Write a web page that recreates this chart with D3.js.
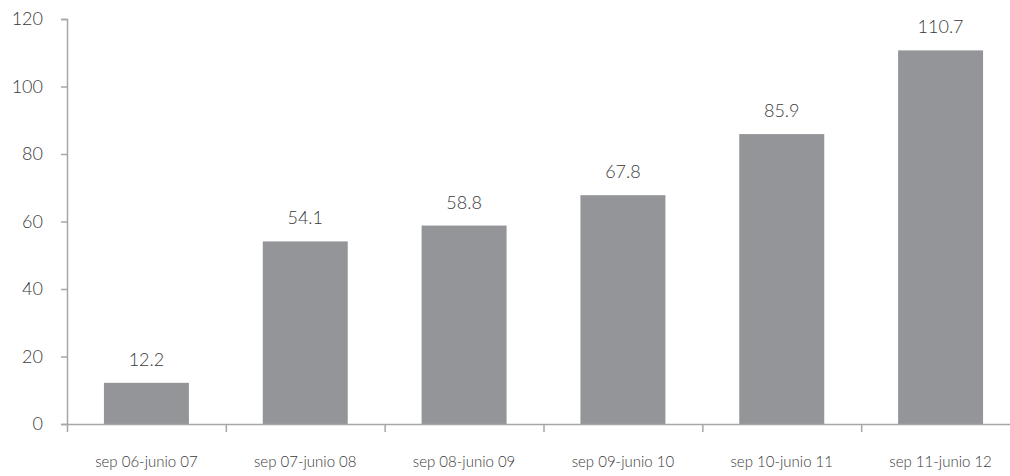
<!DOCTYPE html>
<html><head><meta charset="utf-8">
<script src="https://cdn.jsdelivr.net/npm/d3@7"></script>
<style>body{margin:0;background:#fff}svg{display:block;font-family:Lato,"Open Sans",sans-serif;font-weight:300}</style>
</head><body><svg id="c" width="1010" height="476"></svg>
<script>
const categories = ["sep 06-junio 07","sep 07-junio 08","sep 08-junio 09","sep 09-junio 10","sep 10-junio 11","sep 11-junio 12"];
const values = [12.2, 54.1, 58.8, 67.8, 85.9, 110.7];
const yTicks = [0, 20, 40, 60, 80, 100, 120];

const svg = d3.select("#c");
const x0 = 67, x1 = 1020, yTop = 19, yBot = 424;
const x = d3.scaleBand().domain(categories).range([x0, x1]).paddingInner(0.465).paddingOuter(0.2325);
const y = d3.scaleLinear().domain([0, 120]).range([yBot, yTop]);

const axisColor = "#a6a6a6";
const textColor = "#3a3a3a";
// y axis
const ya = svg.append("g").attr("transform", `translate(${x0},0)`)
  .call(d3.axisLeft(y).tickValues(yTicks).tickSize(6).tickPadding(18));
ya.select(".domain").attr("stroke", axisColor).attr("stroke-width", 1.5);
ya.selectAll(".tick line").attr("stroke", axisColor).attr("stroke-width", 1.5);
ya.selectAll(".tick text").attr("fill", textColor).style("font-size", "18px").style("font-family", "Lato,sans-serif").style("font-weight", 300);

// bars
svg.append("g").selectAll("rect").data(values).join("rect")
  .attr("x", (d, i) => x(categories[i]))
  .attr("width", x.bandwidth())
  .attr("y", d => y(d))
  .attr("height", d => y(0) - y(d))
  .attr("fill", "#939598");

// x axis
const xb = d3.scaleLinear().domain([0, categories.length]).range([x0, x1]);
const xa = svg.append("g").attr("transform", `translate(0,${yBot})`)
  .call(d3.axisBottom(xb).tickValues(d3.range(1, categories.length)).tickSize(8).tickFormat(""));
xa.select(".domain").attr("stroke", axisColor).attr("stroke-width", 1.5);
xa.selectAll(".tick line").attr("stroke", axisColor).attr("stroke-width", 1.5);

// category labels
svg.append("g").selectAll("text").data(categories).join("text")
  .attr("x", d => x(d) + x.bandwidth() / 2)
  .attr("y", 467)
  .attr("text-anchor", "middle")
  .attr("fill", textColor)
  .style("font-size", "15px")
  .text(d => d);

// value labels
svg.append("g").selectAll("text").data(values).join("text")
  .attr("x", (d, i) => x(categories[i]) + x.bandwidth() / 2)
  .attr("y", d => y(d) - 17)
  .attr("text-anchor", "middle")
  .attr("fill", textColor)
  .style("font-size", "18px")
  .text(d => d.toFixed(1));
</script></body></html>
